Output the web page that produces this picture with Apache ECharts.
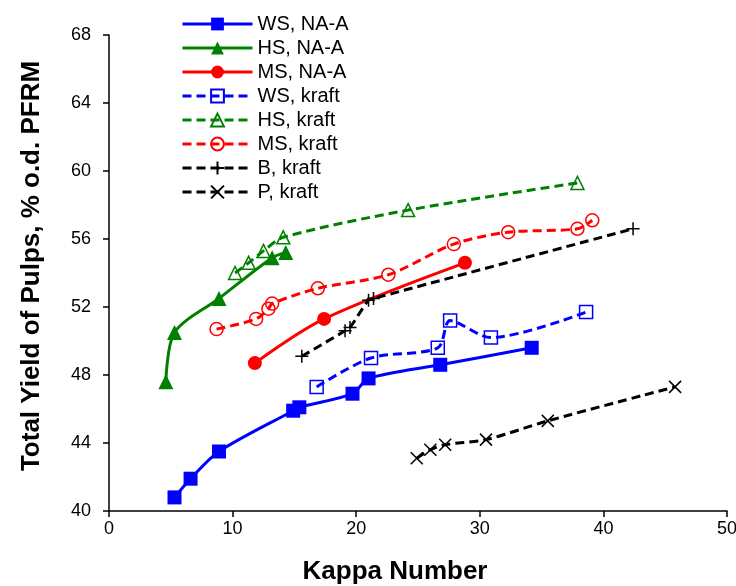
<!DOCTYPE html>
<html>
<head>
<meta charset="utf-8">
<script src="https://cdn.jsdelivr.net/npm/echarts@6/dist/echarts.min.js"></script>
<style>html,body{margin:0;padding:0;background:#fff;}#c{width:736px;height:586px;}</style>
</head>
<body>
<div id="c"></div>
<script>
const xTicks = [0, 10, 20, 30, 40, 50];
const yTicks = [40, 44, 48, 52, 56, 60, 64, 68];

const wsNaA_kappa = [5.3, 6.6, 8.9, 14.9, 15.4, 19.7, 21.0, 26.8, 34.2];
const wsNaA_yield = [40.8, 41.9, 43.5, 45.9, 46.1, 46.9, 47.8, 48.6, 49.6];
const hsNaA_kappa = [4.6, 5.3, 8.9, 13.2, 14.3];
const hsNaA_yield = [47.6, 50.5, 52.5, 54.9, 55.2];
const msNaA_kappa = [11.8, 17.4, 28.8];
const msNaA_yield = [48.7, 51.3, 54.6];
const wsKraft_kappa = [16.8, 21.2, 26.6, 27.6, 30.9, 38.6];
const wsKraft_yield = [47.3, 49.0, 49.6, 51.2, 50.2, 51.7];
const hsKraft_kappa = [10.2, 11.3, 12.5, 14.1, 24.2, 37.9];
const hsKraft_yield = [54.0, 54.6, 55.3, 56.1, 57.7, 59.3];
const msKraft_kappa = [8.7, 11.9, 12.9, 13.2, 16.9, 22.6, 27.9, 32.3, 37.9, 39.1];
const msKraft_yield = [50.7, 51.3, 51.9, 52.2, 53.1, 53.9, 55.7, 56.4, 56.6, 57.1];
const bKraft_kappa = [15.6, 19.1, 19.5, 21.0, 21.4, 42.4];
const bKraft_yield = [49.1, 50.6, 50.8, 52.4, 52.5, 56.6];
const pKraft_kappa = [24.9, 26.0, 27.2, 30.5, 35.5, 45.8];
const pKraft_yield = [43.1, 43.6, 43.9, 44.2, 45.3, 47.3];

const FONT = "'Liberation Sans', Arial, sans-serif";
const zip = (xs, ys) => xs.map((x, i) => [x, ys[i]]);
const PLUS = 'path://M0,5L10,5M5,0L5,10';
const CROSS = 'path://M0,0L10,10M10,0L0,10';

function solid(name, color, symbol, size, xs, ys) {
  return {
    name, type: 'line', data: zip(xs, ys), smooth: 0.3,
    symbol, symbolSize: size,
    lineStyle: { color, width: 3, type: 'solid' },
    itemStyle: { color, borderColor: color, borderWidth: 0 }
  };
}
function dashed(name, color, symbol, size, xs, ys) {
  return {
    name, type: 'line', data: zip(xs, ys), smooth: 0.3,
    symbol, symbolSize: size,
    lineStyle: { color, width: 3, type: [9, 5] },
    itemStyle: { color: 'rgba(0,0,0,0)', borderColor: color, borderWidth: 1.5 }
  };
}

const chart = echarts.init(document.getElementById('c'), null, { renderer: 'canvas' });
chart.setOption({
  animation: false,
  backgroundColor: '#fff',
  textStyle: { fontFamily: FONT },
  grid: { left: 109, right: 9, top: 35, bottom: 75, containLabel: false, outerBoundsMode: 'none' },
  legend: {
    orient: 'vertical', left: 181, top: 14, padding: 0,
    itemWidth: 70, itemHeight: 16, itemGap: 4,
    lineStyle: { width: 3 },
    textStyle: { fontFamily: FONT, fontSize: 20, lineHeight: 20, color: '#000' },
    data: ['WS, NA-A', 'HS, NA-A', 'MS, NA-A', 'WS, kraft', 'HS, kraft', 'MS, kraft', 'B, kraft', 'P, kraft']
  },
  xAxis: {
    type: 'value', min: xTicks[0], max: xTicks[xTicks.length - 1], interval: 10,
    name: 'Kappa Number', nameLocation: 'middle', nameGap: 48,
    nameTextStyle: { fontFamily: FONT, fontSize: 26, fontWeight: 'bold', color: '#000', padding: [0, 46, 0, 0] },
    axisLine: { onZero: false, lineStyle: { color: '#000', width: 1.5 } },
    axisTick: { show: true, inside: false, length: 6, lineStyle: { color: '#000', width: 1.5 } },
    axisLabel: { fontFamily: FONT, fontSize: 18, color: '#000', margin: 9 },
    splitLine: { show: false }
  },
  yAxis: {
    type: 'value', min: yTicks[0], max: yTicks[yTicks.length - 1], interval: 4,
    name: 'Total Yield of Pulps, % o.d. PFRM', nameLocation: 'middle', nameGap: 64,
    nameTextStyle: { fontFamily: FONT, fontSize: 26, fontWeight: 'bold', color: '#000', padding: [0, 0, 0, 14] },
    axisLine: { show: true, onZero: false, lineStyle: { color: '#000', width: 1.5 } },
    axisTick: { show: true, inside: false, length: 6, lineStyle: { color: '#000', width: 1.5 } },
    axisLabel: { fontFamily: FONT, fontSize: 18, color: '#000', margin: 18 },
    splitLine: { show: false }
  },
  series: [
    solid('WS, NA-A', '#0000FF', 'rect', 14, wsNaA_kappa, wsNaA_yield),
    solid('HS, NA-A', '#008000', 'triangle', 15, hsNaA_kappa, hsNaA_yield),
    solid('MS, NA-A', '#FF0000', 'circle', 14, msNaA_kappa, msNaA_yield),
    dashed('WS, kraft', '#0000FF', 'rect', 13, wsKraft_kappa, wsKraft_yield),
    dashed('HS, kraft', '#008000', 'triangle', 13, hsKraft_kappa, hsKraft_yield),
    dashed('MS, kraft', '#FF0000', 'circle', 13, msKraft_kappa, msKraft_yield),
    dashed('B, kraft', '#000000', PLUS, 13, bKraft_kappa, bKraft_yield),
    dashed('P, kraft', '#000000', CROSS, 12, pKraft_kappa, pKraft_yield)
  ]
});
</script>
</body>
</html>
